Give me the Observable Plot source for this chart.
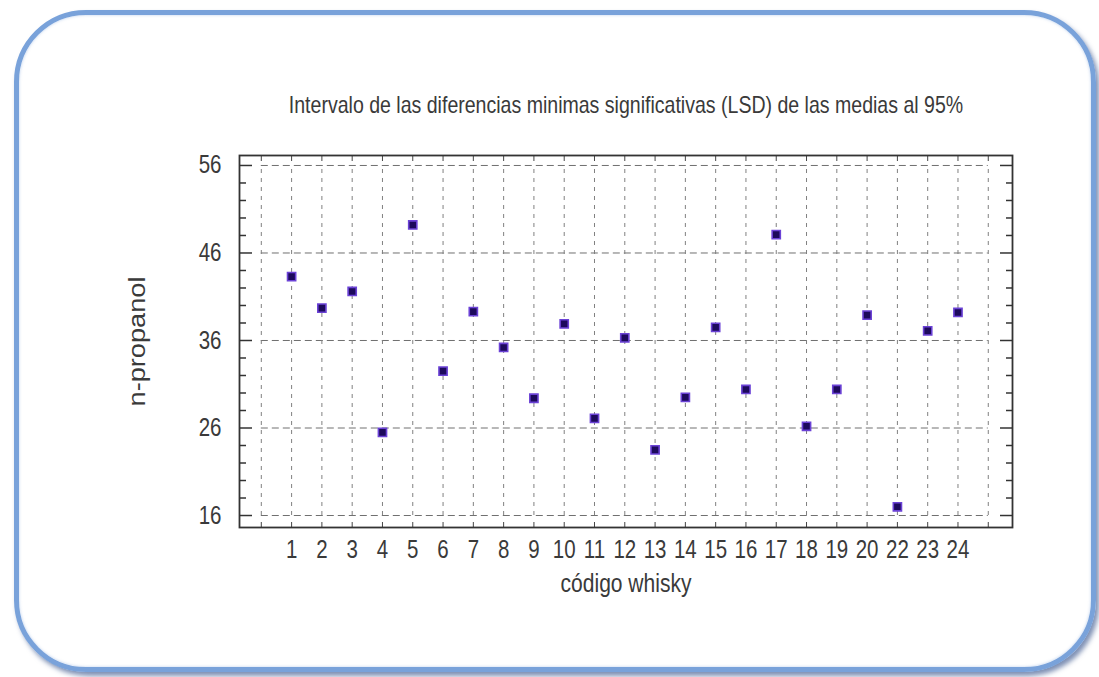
<!DOCTYPE html>
<html>
<head>
<meta charset="utf-8">
<script src="https://cdn.jsdelivr.net/npm/d3@7"></script>
<script src="https://cdn.jsdelivr.net/npm/@observablehq/plot@0.6"></script>
<style>
  html, body { margin: 0; padding: 0; background: #fff; }
  #wrap { position: relative; width: 1099px; height: 677px; overflow: hidden; background: #fff; }
  #chart { position: absolute; left: 0; top: 0; }
  #box { position: absolute; left: 14px; top: 10px; width: 1072px; height: 652px;
         border: 5px solid #79a2da; border-radius: 72px;
         box-shadow: 3px 4px 5px rgba(40,70,130,0.6), inset 0 0 3px rgba(120,160,220,0.5); pointer-events: none; }
</style>
</head>
<body>
<div id="wrap"><div id="chart"></div><div id="box"></div></div>
<script>
const titleText = "Intervalo de las diferencias minimas significativas (LSD) de las medias al 95%";
const xLabel = "código whisky";
const yLabel = "n-propanol";
const codes = ["1","2","3","4","5","6","7","8","9","10","11","12","13","14","15","16","17","18","19","20","22","23","24"];
const nPropanol = [43.3, 39.7, 41.6, 25.5, 49.2, 32.5, 39.3, 35.2, 29.4, 37.9, 27.1, 36.3, 23.5, 29.5, 37.5, 30.4, 48.1, 26.2, 30.4, 38.9, 17.0, 37.1, 39.2];
const yMajorTicks = [16, 26, 36, 46, 56];
const yMinorTicks = [18, 20, 22, 24, 28, 30, 32, 34, 38, 40, 42, 44, 48, 50, 52, 54];
const xGridPositions = d3.range(0, codes.length + 2);
const xTickPositions = d3.range(1, codes.length + 1);

const data = codes.map((c, i) => ({pos: i + 1, code: c, value: nPropanol[i]}));
const font = "'Liberation Sans', Arial, sans-serif";
const textColor = "#3a3a3a";
const yLo = d3.min(yMajorTicks), yHi = d3.max(yMajorTicks);
const xLo = d3.min(xGridPositions), xHi = d3.max(xGridPositions);

const chart = Plot.plot({
  width: 1099,
  height: 677,
  marginLeft: 239,
  marginRight: 87,
  marginTop: 155,
  marginBottom: 150,
  style: {fontFamily: font, color: textColor, background: "transparent"},
  x: {domain: [-0.72, 24.8], label: null},
  y: {domain: [14.63, 57.14], label: null},
  marks: [
    Plot.gridY(yMajorTicks, {x1: xLo, x2: xHi, stroke: "#707070", strokeOpacity: 1, strokeDasharray: "7,4", strokeWidth: 1}),
    Plot.gridX(xGridPositions, {y1: yLo, y2: yHi, stroke: "#808080", strokeOpacity: 1, strokeDasharray: "4,5", strokeWidth: 1}),
    Plot.axisY(yMajorTicks, {anchor: "left", tickSize: 0, tickPadding: 18, fontSize: 25, label: null}),
    Plot.axisY(yMajorTicks, {anchor: "left", tickSize: 13, insetLeft: 13, tickFormat: () => "", label: null, stroke: "#333", strokeWidth: 1.5}),
    Plot.axisY(yMinorTicks, {anchor: "left", tickSize: 7, insetLeft: 7, tickFormat: () => "", label: null, stroke: "#333", strokeWidth: 1.5}),
    Plot.axisY(yMajorTicks, {anchor: "right", tickSize: 13, insetRight: 13, tickFormat: () => "", label: null, stroke: "#333", strokeWidth: 1.5}),
    Plot.axisY(yMinorTicks, {anchor: "right", tickSize: 7, insetRight: 7, tickFormat: () => "", label: null, stroke: "#333", strokeWidth: 1.5}),
    Plot.axisX(xTickPositions, {anchor: "bottom", tickSize: 0, tickPadding: 13, fontSize: 25,
      tickFormat: d => codes[d - 1], label: null}),
    Plot.axisX(xGridPositions, {anchor: "bottom", tickSize: 5, insetBottom: 5, tickFormat: () => "", label: null, stroke: "#444"}),
    Plot.axisX(xGridPositions, {anchor: "top", tickSize: 5, insetTop: 5, tickFormat: () => "", label: null, stroke: "#444"}),
    Plot.frame({stroke: "#333", strokeWidth: 1.8}),
    Plot.dot(data, {x: "pos", y: "value", symbol: "square", r: 4.6, fill: "#1d0a5c", stroke: "#6b42d6", strokeWidth: 1.6}),
    Plot.text([titleText], {frameAnchor: "top", dy: -50, fontSize: 23, fill: textColor, textAnchor: "middle", lineAnchor: "middle"}),
    Plot.text([xLabel], {frameAnchor: "bottom", dy: 56, fontSize: 25, fill: textColor, textAnchor: "middle", lineAnchor: "middle"}),
    Plot.text([yLabel], {frameAnchor: "left", dx: -102, rotate: -90, fontSize: 23, fill: textColor, textAnchor: "middle", lineAnchor: "middle"})
  ]
});
document.getElementById("chart").appendChild(chart);

// narrow the text (horizontal scale about its anchor) to mimic a condensed face
const targets = new Map([[titleText, 675], [xLabel, 131], [yLabel, 130]]);
chart.querySelectorAll("text").forEach(t => {
  const s = t.textContent;
  if (!s) return;
  const len = t.getComputedTextLength();
  if (!len) return;
  const k = targets.has(s) ? targets.get(s) / len : 0.82;
  const tr = t.getAttribute("transform");
  if (tr) {
    t.setAttribute("transform", `${tr} scale(${k},1)`);
  } else {
    t.setAttribute("textLength", len * k);
    t.setAttribute("lengthAdjust", "spacingAndGlyphs");
  }
});
</script>
</body>
</html>
